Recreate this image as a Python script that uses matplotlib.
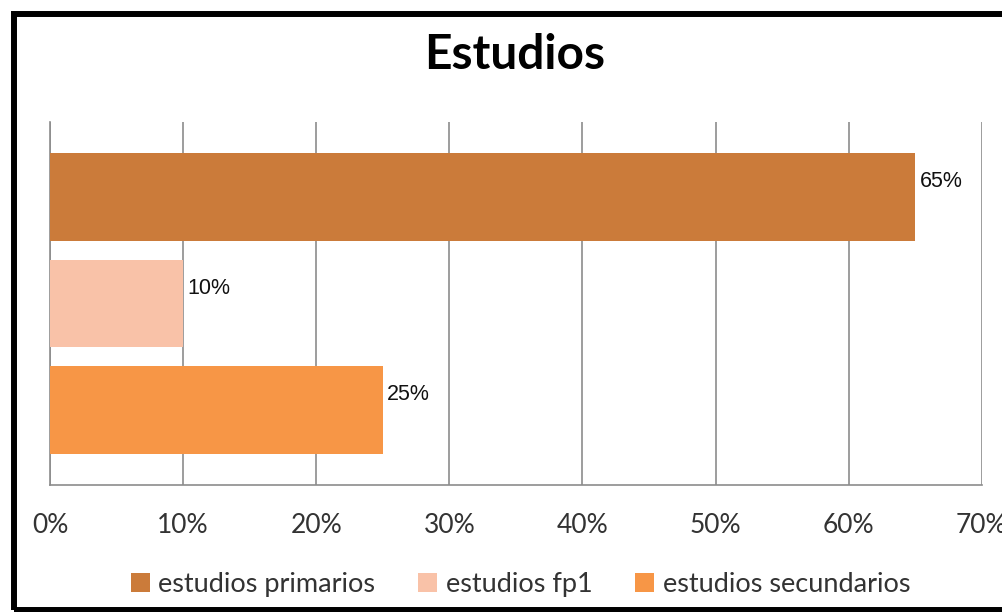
import matplotlib.pyplot as plt
from matplotlib.patches import Rectangle, Patch
from matplotlib.ticker import PercentFormatter

# Datos
categorias = ['estudios primarios', 'estudios fp1', 'estudios secundarios']
valores = [65, 10, 25]
colores = ['#CB7B3A', '#F9C2A8', '#F79646']
posiciones = [2, 1, 0]

fig = plt.figure(figsize=(10.03, 6.12), dpi=100)
ax = fig.add_axes([0.0499, 0.2075, 0.929, 0.5932])

ax.barh(posiciones, valores, height=0.82, color=colores, zorder=3)

for p, v in zip(posiciones, valores):
    ax.annotate(f'{v}%', (v, p), xytext=(3, 11), textcoords='offset points',
                ha='left', va='center', fontsize=15.5, family='Liberation Sans',
                color='#111111')

ax.set_xlim(0, 70)
ax.set_ylim(-0.704, 2.704)
ax.set_xticks(range(0, 71, 10))
ax.xaxis.set_major_formatter(PercentFormatter(decimals=0))
ax.set_yticks([])
ax.grid(axis='x', color='#8C8C8C', linewidth=1.2, zorder=0)
ax.tick_params(axis='x', length=0, pad=20, labelsize=19, labelcolor='#333333')
for lbl in ax.get_xticklabels():
    lbl.set_family('Lato')
for lado in ['top', 'right']:
    ax.spines[lado].set_visible(False)
for lado in ['left', 'bottom']:
    ax.spines[lado].set_color('#8C8C8C')
    ax.spines[lado].set_linewidth(1.2)

fig.text(0.513, 0.91, 'Estudios', ha='center', va='center', fontsize=34.5,
         fontweight='bold', family='Lato')

handles = [Patch(facecolor=c, edgecolor='none') for c in colores]
fig.legend(handles, categorias, loc='center', bbox_to_anchor=(0.519, 0.045),
           ncol=3, frameon=False, prop={'family': 'Lato', 'size': 19.5},
           handlelength=0.7, handleheight=0.7, handletextpad=0.3,
           columnspacing=1.6, labelcolor='#333333')

# Marco negro
fig.patches.append(Rectangle((14 / 1003, 2 / 612), 1.1, 596 / 612,
                             transform=fig.transFigure, fill=False,
                             edgecolor='black', linewidth=4.3, zorder=10))

fig.savefig('out.png', dpi=100)
